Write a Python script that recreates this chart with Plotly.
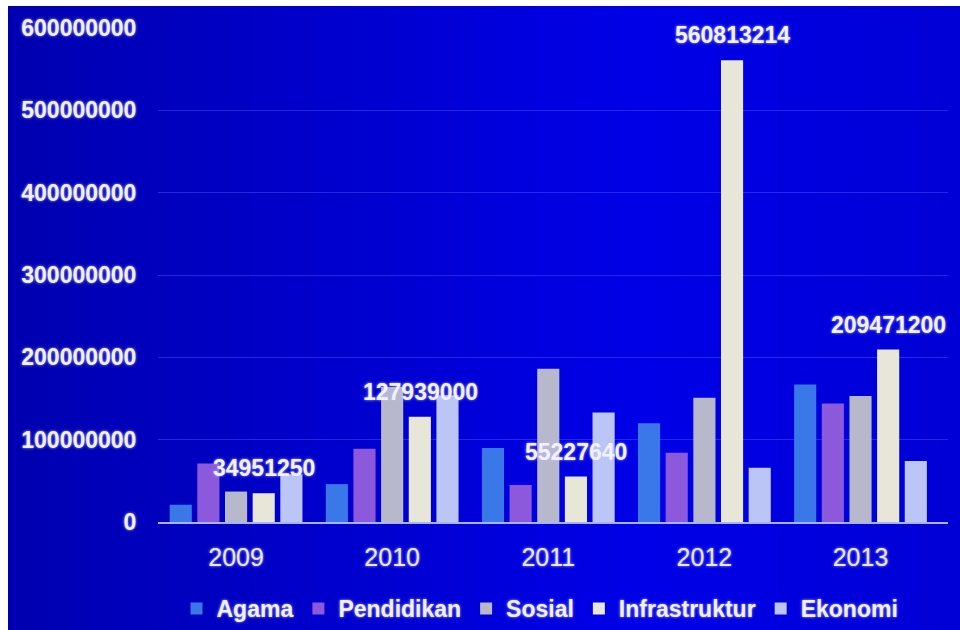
import plotly.graph_objects as go

years = ["2009", "2010", "2011", "2012", "2013"]
agama = [21000000, 46000000, 90000000, 120000000, 167000000]
pendidikan = [71000000, 89000000, 45000000, 84000000, 144000000]
sosial = [37000000, 164000000, 186000000, 151000000, 153000000]
infrastruktur = [34951250, 127939000, 55227640, 560813214, 209471200]
ekonomi = [58000000, 154000000, 133000000, 66000000, 74000000]

series = [
    ("Agama", agama, "#3a78ea"),
    ("Pendidikan", pendidikan, "#8c58dc"),
    ("Sosial", sosial, "#b8b8cc"),
    ("Infrastruktur", infrastruktur, "#e8e6d8"),
    ("Ekonomi", ekonomi, "#bcc6f6"),
]

W, H = 960, 630
ML, MR, MT, MB = 158, 12, 28, 108
PW, PH = W - ML - MR, H - MT - MB
GLOW = "0px 0px 3px rgba(190,190,255,0.9)"

fig = go.Figure()
for name, vals, col in series:
    fig.add_trace(go.Bar(x=years, y=vals, name=name, marker=dict(color=col, line=dict(width=0))))

# data labels for Infrastruktur (4th bar of group -> +1 slot from group centre)
slot = (PW / len(years)) * (1 - 0.114) / 5
annotations = []
for i, v in enumerate(infrastruktur):
    annotations.append(dict(
        x=i, y=v, xref="x", yref="y", text=str(v), showarrow=False,
        xshift=slot, yshift=10, yanchor="bottom",
        font=dict(family="Liberation Sans, Arial", size=23, color="#f2f2ff", weight="bold", shadow=GLOW),
    ))

shapes = []
def px2paper_x(px):
    return (px - ML) / PW
def px2paper_y(py):
    return (MT + PH - py) / PH

n = 48
x_start, x_end = 8, W + 20
stops = [(0.0, (0, 0, 176)), (0.65, (0, 0, 232)), (1.0, (0, 0, 212))]
def col_at(t):
    for (t0, c0), (t1, c1) in zip(stops[:-1], stops[1:]):
        if t0 <= t <= t1:
            f = (t - t0) / (t1 - t0)
            return "rgb(%d,%d,%d)" % tuple(round(a + (b - a) * f) for a, b in zip(c0, c1))
    return "rgb(0,0,212)"
for i in range(n):
    a = x_start + (x_end - x_start) * i / n
    b = x_start + (x_end - x_start) * (i + 1) / n + 1
    shapes.append(dict(type="rect", xref="paper", yref="paper",
                       x0=px2paper_x(a), x1=px2paper_x(b),
                       y0=px2paper_y(H + 40), y1=px2paper_y(6),
                       fillcolor=col_at((i + 0.5) / n), line=dict(width=0), layer="below"))
# white borders (top and left)
shapes.append(dict(type="rect", xref="paper", yref="paper",
                   x0=px2paper_x(-20), x1=px2paper_x(W + 20), y0=px2paper_y(6), y1=px2paper_y(-20),
                   fillcolor="white", line=dict(width=0), layer="below"))
shapes.append(dict(type="rect", xref="paper", yref="paper",
                   x0=px2paper_x(-20), x1=px2paper_x(8), y0=px2paper_y(H + 40), y1=px2paper_y(-20),
                   fillcolor="white", line=dict(width=0), layer="below"))

fig.update_layout(
    width=W, height=H,
    margin=dict(l=ML, r=MR, t=MT, b=MB, autoexpand=False),
    paper_bgcolor="rgb(0,0,200)",
    plot_bgcolor="rgba(0,0,0,0)",
    barmode="group", bargap=0.114, bargroupgap=0.2,
    font=dict(family="Liberation Sans, Arial", color="#eeeeff"),
    shapes=shapes,
    annotations=annotations,
    showlegend=True,
    legend=dict(orientation="h", x=540 / W, xanchor="center", xref="container",
                y=0.0, yanchor="bottom", yref="container",
                font=dict(size=23, color="#f0f0ff", weight="bold", shadow=GLOW),
                bgcolor="rgba(0,0,0,0)", itemwidth=30, tracegroupgap=0, borderwidth=0),
    xaxis=dict(type="category", showline=True, linecolor="#a8b4ff", linewidth=2,
               ticks="outside", ticklen=12, tickcolor="rgba(0,0,0,0)",
               tickfont=dict(size=25, color="#e8e8ff", shadow=GLOW), showgrid=False),
    yaxis=dict(range=[0, 600000000], dtick=100000000, tickformat="d",
               showgrid=True, gridcolor="rgba(70,90,255,0.45)", gridwidth=1,
               zeroline=False, ticks="outside", ticklen=16, tickcolor="rgba(0,0,0,0)",
               tickfont=dict(size=23, color="#f0f0ff", weight="bold", shadow=GLOW)),
)

fig.write_html("out.html")
